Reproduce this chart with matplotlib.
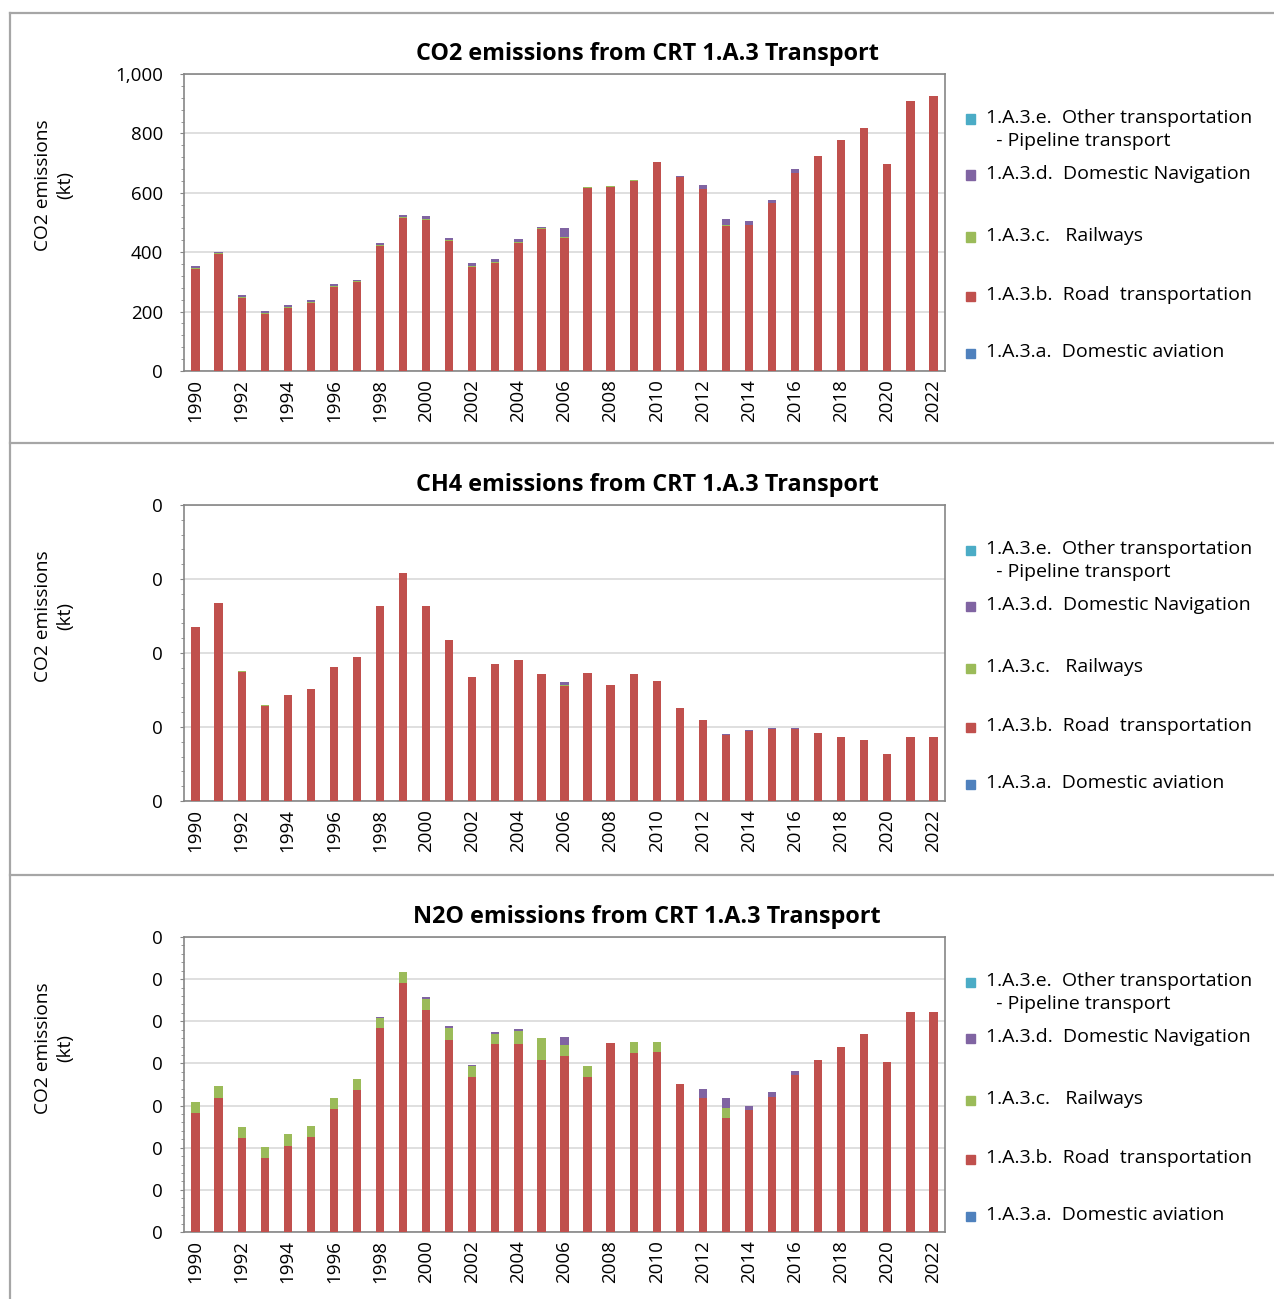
import matplotlib.pyplot as plt
import matplotlib.ticker as mticker
from matplotlib.patches import Rectangle
from matplotlib.lines import Line2D
import numpy as np

plt.rcParams['font.family'] = ['Open Sans', 'DejaVu Sans']

## Data
years = list(range(1990, 2023))
year_labels = [str(y) if y % 2 == 0 else '' for y in years]

series_names = ['1.A.3.a.  Domestic aviation',
                '1.A.3.b.  Road  transportation',
                '1.A.3.c.   Railways',
                '1.A.3.d.  Domestic Navigation',
                '1.A.3.e.  Other transportation\n  - Pipeline transport']
colors = ['#4F81BD', '#C0504D', '#9BBB59', '#8064A2', '#4BACC6']

# CO2 (kt)
co2_aviation = [0] * 33
co2_road = [343, 394, 247, 192, 212, 229, 283, 299, 421, 514, 510, 438, 350, 364, 431, 477, 447,
            617, 621, 640, 703, 653, 612, 489, 492, 565, 665, 724, 778, 817, 698, 909, 925]
co2_rail = [3, 3, 3, 3, 3, 3, 3, 3, 3, 3, 3, 3, 3, 3, 3, 3, 3,
            3, 2, 2, 2, 1, 1, 1, 1, 1, 1, 0, 0, 0, 0, 0, 0]
co2_nav = [7, 5, 6, 7, 6, 7, 6, 6, 6, 8, 10, 8, 9, 10, 10, 4, 30,
           1, 0, 1, 0, 1, 12, 23, 11, 11, 13, 0, 0, 0, 0, 0, 0]
co2_other = [0] * 33

# CH4 (kt)
ch4_aviation = [0] * 33
ch4_road = [0.235, 0.267, 0.175, 0.129, 0.143, 0.151, 0.181, 0.195, 0.264, 0.308, 0.264, 0.218,
            0.167, 0.185, 0.191, 0.171, 0.156, 0.173, 0.157, 0.172, 0.162, 0.126, 0.109, 0.089,
            0.095, 0.097, 0.097, 0.092, 0.087, 0.083, 0.064, 0.086, 0.087]
ch4_rail = [0.0001] * 33
ch4_nav = [0, 0, 0, 0, 0, 0, 0, 0, 0, 0, 0, 0, 0.001, 0, 0, 0, 0.005,
           0, 0, 0, 0, 0, 0.001, 0.002, 0.001, 0.001, 0.001, 0, 0, 0, 0, 0, 0]
ch4_other = [0] * 33

# N2O (kt)
n2o_aviation = [0] * 33
n2o_road = [0.0282, 0.0318, 0.0224, 0.0175, 0.0205, 0.0226, 0.0291, 0.0337, 0.0484, 0.0592, 0.0527,
            0.0456, 0.0367, 0.0446, 0.0447, 0.0409, 0.0418, 0.0367, 0.0448, 0.0424, 0.0426, 0.0352,
            0.0319, 0.0270, 0.0289, 0.0321, 0.0372, 0.0408, 0.0438, 0.0470, 0.0403, 0.0523, 0.0521]
n2o_rail = [0.0026, 0.0028, 0.0026, 0.0027, 0.0027, 0.0026, 0.0026, 0.0027, 0.0024, 0.0025, 0.0027,
            0.0028, 0.0026, 0.0024, 0.0029, 0.0051, 0.0026, 0.0026, 0, 0.0026, 0.0024, 0, 0,
            0.0025, 0, 0, 0, 0, 0, 0, 0, 0, 0]
n2o_nav = [0, 0, 0, 0, 0, 0, 0, 0, 0.0003, 0, 0.0003, 0.0005, 0.0004, 0.0005, 0.0005, 0, 0.0018,
           0, 0, 0, 0, 0, 0.0020, 0.0023, 0.0010, 0.0011, 0.0010, 0, 0, 0, 0, 0, 0]
n2o_other = [0] * 33

panels = [
    ('CO2 emissions from CRT 1.A.3 Transport',
     [co2_aviation, co2_road, co2_rail, co2_nav, co2_other], 1000, 200, '{x:,.0f}'),
    ('CH4 emissions from CRT 1.A.3 Transport',
     [ch4_aviation, ch4_road, ch4_rail, ch4_nav, ch4_other], 0.4, 0.1, '{x:.0f}'),
    ('N2O emissions from CRT 1.A.3 Transport',
     [n2o_aviation, n2o_road, n2o_rail, n2o_nav, n2o_other], 0.07, 0.01, '{x:.0f}'),
]

fig = plt.figure(figsize=(12.74, 12.99), dpi=100)
W, H = 1274, 1299

# outer frame and separators (pixel coords)
def hline(y, x0, x1):
    fig.add_artist(Line2D([x0 / W, x1 / W], [1 - y / H, 1 - y / H], color='#a6a6a6', lw=1.6))

hline(13, 10, W)
hline(443, 10, W)
hline(875, 10, W)
fig.add_artist(Line2D([10 / W, 10 / W], [1 - 13 / H, 0], color='#a6a6a6', lw=1.6))

tops = [74, 505, 937]
bottoms = [371, 801, 1232]
x_left, x_right = 184, 945
legend_offsets = [45, 101, 163, 222, 279]
legend_order = [4, 3, 2, 1, 0]

x = np.arange(len(years))
for (title, stacks, ymax, step, fmt), top, bot in zip(panels, tops, bottoms):
    ax = fig.add_axes([x_left / W, 1 - bot / H, (x_right - x_left) / W, (bot - top) / H])
    base = np.zeros(len(years))
    for vals, c in zip(stacks, colors):
        ax.bar(x, vals, width=0.36, bottom=base, color=c, zorder=3)
        base += np.array(vals)
    ax.set_xlim(-0.5, len(years) - 0.5)
    ax.set_ylim(0, ymax)
    ax.yaxis.set_major_locator(mticker.MultipleLocator(step))
    ax.yaxis.set_minor_locator(mticker.MultipleLocator(step / 5))
    ax.yaxis.set_major_formatter(mticker.StrMethodFormatter(fmt))
    ax.set_xticks(x)
    ax.set_xticklabels(year_labels, rotation=90, fontsize=13.5)
    ax.tick_params(axis='x', length=0, pad=6)
    ax.tick_params(axis='y', which='major', length=3, color='#868686', labelsize=13.5, pad=12)
    ax.tick_params(axis='y', which='minor', length=2.2, color='#868686')
    ax.grid(axis='y', color='#d9d9d9', lw=1.2, zorder=0)
    for s in ax.spines.values():
        s.set_color('#868686')
        s.set_linewidth(1.2)

    fig.text(647 / W, 1 - (top - 20) / H, title, fontsize=16.8, fontweight='bold',
             ha='center', va='center')
    fig.text(54 / W, 1 - (top + 111) / H, 'CO2 emissions\n(kt)', fontsize=13.8,
             rotation=90, ha='center', va='center', linespacing=1.3, multialignment='center')

    # legend drawn at fixed pixel positions
    for off, i in zip(legend_offsets, legend_order):
        yy = 1 - (top + off) / H
        fig.add_artist(Rectangle((966 / W, yy - 4.5 / H), 9 / W, 9 / H,
                                 color=colors[i], transform=fig.transFigure))
        fig.text(986 / W, yy + 10 / H, series_names[i], fontsize=14, va='top',
                 ha='left', linespacing=1.35)

fig.savefig('out.png', dpi=100)
